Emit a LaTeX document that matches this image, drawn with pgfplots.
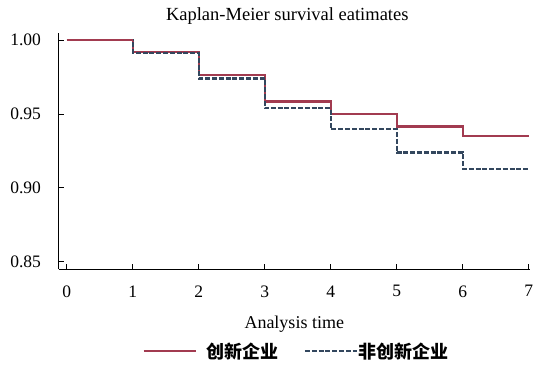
\documentclass[border=0pt]{standalone}
\usepackage{pgfplots}
\pgfplotsset{compat=1.18}
\usepackage{fontspec}
\setmainfont{Liberation Serif}
\newfontfamily\cjk{Noto Sans CJK SC}
\definecolor{kmred}{HTML}{A23B50}
\definecolor{kmblue}{HTML}{33475E}
\begin{document}
\begin{tikzpicture}
\useasboundingbox (-58.5pt,-96pt) rectangle (475.5pt,269pt);
\begin{axis}[
  at={(0pt,0pt)}, anchor=south west,
  scale only axis,
  width=471.5pt, height=235.7pt,
  xmin=-0.126, xmax=7.02,
  ymin=0.8451, ymax=1.0047,
  axis lines*=left,
  axis line style={line width=0.9pt, -},
  tick style={line width=0.9pt, black},
  tick align=inside,
  major tick length=5pt,
  xtick={0,1,2,3,4,5,6,7},
  ytick={0.85,0.90,0.95,1.00},
  y tick label style={/pgf/number format/fixed, /pgf/number format/fixed zerofill, /pgf/number format/precision=2},
  /pgf/number format/assume math mode=true,
  tick label style={font=\fontsize{17.5}{20}\selectfont},
  yticklabel style={xshift=-14pt},
  xticklabel style={yshift=-13pt},
  title={Kaplan-Meier survival eatimates},
  title style={font=\fontsize{18.5}{21}\selectfont, at={(0.5,1)}, anchor=base, yshift=7pt, xshift=-7pt},
  xlabel={Analysis time},
  xlabel style={font=\fontsize{18}{21}\selectfont, at={(0.5,0)}, anchor=base, yshift=-59pt},
  legend style={draw=none, fill=none, at={(0.5,0)}, anchor=center, yshift=-82pt, xshift=2pt,
    font=\fontsize{18}{21}\selectfont\cjk\bfseries, inner sep=0pt,
    /tikz/column 1/.style={column sep=8pt},
    /tikz/column 2/.style={column sep=23pt},
    /tikz/column 3/.style={column sep=-2pt}},
  legend columns=2,
  legend cell align=left,
  legend image code/.code={\draw[#1] (0pt,0pt) -- (52pt,0pt);},
  clip=false,
]
\addplot[const plot, kmred, line width=2.4pt] coordinates {
  (0,1.000) (1,0.9922) (2,0.9765) (3,0.9585) (4,0.9500) (5,0.9415) (6,0.9350) (7,0.9350)
};
\addlegendentry{创新企业}
\addplot[const plot, kmblue, line width=2.4pt, dash pattern=on 5pt off 1.8pt] coordinates {
  (0,1.000) (1,0.9915) (2,0.9740) (3,0.9540) (4,0.9397) (5,0.9240) (6,0.9130) (7,0.9130)
};
\addlegendentry{非创新企业}
\addplot[kmred, line width=2.4pt, forget plot] coordinates {(0,1.000) (1,1.000)};
\end{axis}
\end{tikzpicture}
\end{document}
